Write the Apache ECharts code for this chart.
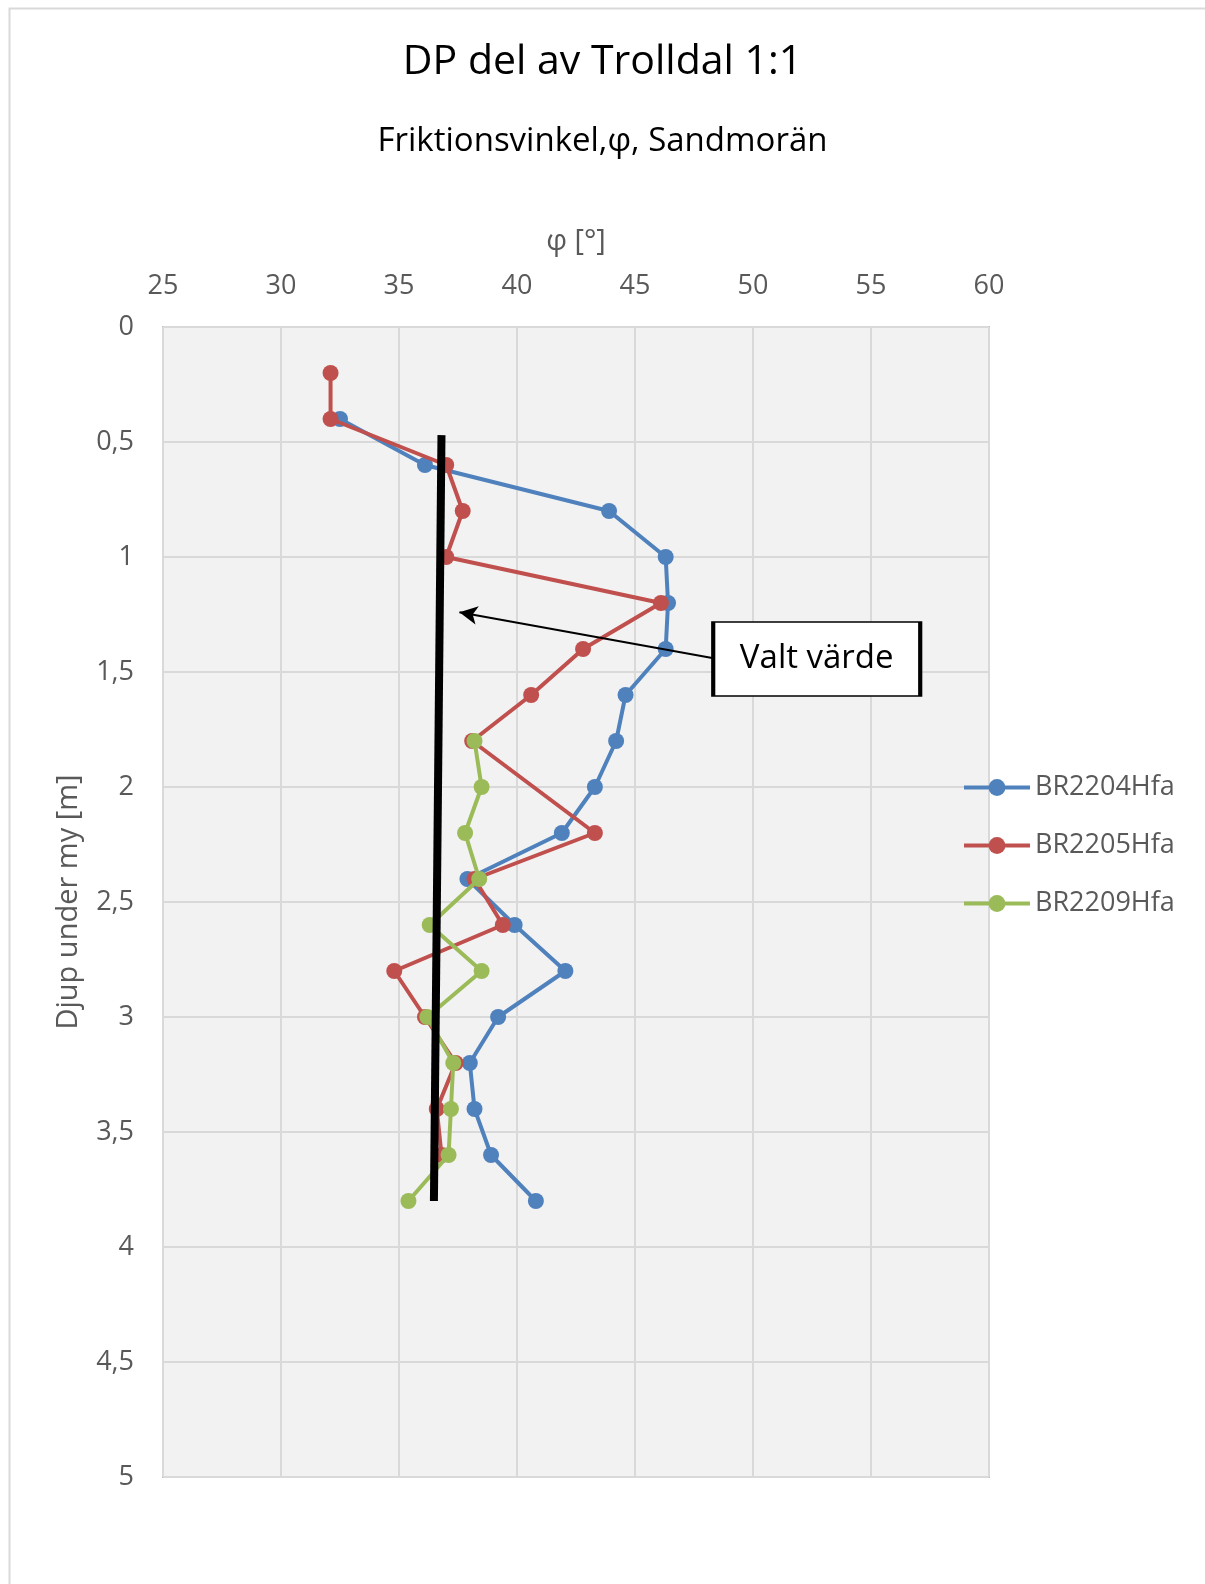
<!DOCTYPE html>
<html>
<head>
<meta charset="utf-8">
<script src="https://cdn.jsdelivr.net/npm/echarts@6/dist/echarts.min.js"></script>
<style>
html,body{margin:0;padding:0;background:#fff;}
#chart{width:1205px;height:1584px;}
</style>
</head>
<body>
<div id="chart"></div>
<script>
// ---- Data ----
const titleText = 'DP del av Trolldal 1:1';
const subtitleText = 'Friktionsvinkel,\u03c6, Sandmor\u00e4n';
const xAxisName = '\u03c6 [\u00b0]';
const yAxisName = 'Djup under my [m]';
const seriesNames = ['BR2204Hfa', 'BR2205Hfa', 'BR2209Hfa'];

const depthBR2204 = [0.4, 0.6, 0.8, 1.0, 1.2, 1.4, 1.6, 1.8, 2.0, 2.2, 2.4, 2.6, 2.8, 3.0, 3.2, 3.4, 3.6, 3.8];
const phiBR2204   = [32.5, 36.1, 43.9, 46.3, 46.4, 46.3, 44.6, 44.2, 43.3, 41.9, 37.9, 39.9, 42.05, 39.2, 38.0, 38.2, 38.9, 40.8];

const depthBR2205 = [0.2, 0.4, 0.6, 0.8, 1.0, 1.2, 1.4, 1.6, 1.8, 2.2, 2.4, 2.6, 2.8, 3.0, 3.2, 3.4, 3.6];
const phiBR2205   = [32.1, 32.1, 37.0, 37.7, 37.0, 46.1, 42.8, 40.6, 38.1, 43.3, 38.2, 39.4, 34.8, 36.1, 37.4, 36.6, 36.8];

const depthBR2209 = [1.8, 2.0, 2.2, 2.4, 2.6, 2.8, 3.0, 3.2, 3.4, 3.6, 3.8];
const phiBR2209   = [38.2, 38.5, 37.8, 38.4, 36.3, 38.5, 36.2, 37.3, 37.2, 37.1, 35.4];

// chosen value line ("Valt värde")
const valtDepth = [0.47, 3.8];
const valtPhi   = [36.8, 36.48];
const annotationText = 'Valt v\u00e4rde';
const arrowFrom = [48.33, 1.44];
const arrowTo   = [37.56, 1.24];
const boxCenter = [52.7, 1.443];

const xTicks = {min: 25, max: 60, interval: 5};
const yTicks = {min: 0, max: 5, interval: 0.5};

const colors = ['#4F81BD', '#C0504D', '#9BBB59'];

function pairs(xs, ys){ return xs.map((x,i)=>[x, ys[i]]); }

const FONT = '"Open Sans", "Noto Sans", sans-serif';
const chart = echarts.init(document.getElementById('chart'), null, {renderer:'canvas'});

const dataSeries = [
  pairs(phiBR2204, depthBR2204),
  pairs(phiBR2205, depthBR2205),
  pairs(phiBR2209, depthBR2209)
].map((d,i)=>({
  name: seriesNames[i],
  type: 'line',
  data: d,
  symbol: 'circle',
  symbolSize: 16,
  showSymbol: true,
  color: colors[i],
  lineStyle: {width: 4, color: colors[i]},
  itemStyle: {color: colors[i]},
  z: 3 + i,
  animation: false
}));

const option = {
  backgroundColor: '#fff',
  animation: false,
  textStyle: {fontFamily: FONT},
  title: [
    {text: titleText, left: 'center', top: 37, textStyle: {fontFamily: FONT, fontSize: 41, fontWeight: 'normal', color: '#000'}},
    {text: subtitleText, left: 'center', top: 120, textStyle: {fontFamily: FONT, fontSize: 33, fontWeight: 'normal', color: '#000'}}
  ],
  graphic: [{
    type: 'rect', left: 7, top: 6, silent: true, z: -10,
    shape: {width: 1300, height: 1700},
    style: {fill: 'none', stroke: '#D9D9D9', lineWidth: 2}
  }],
  grid: {
    left: 163, top: 327, width: 826, height: 1150,
    show: true, backgroundColor: '#F2F2F2', borderColor: '#BFBFBF', borderWidth: 2,
    containLabel: false
  },
  legend: {
    data: seriesNames,
    orient: 'vertical',
    left: 957, top: 769,
    itemWidth: 66, itemHeight: 21, itemGap: 31,
    lineStyle: {width: 4},
    textStyle: {fontFamily: FONT, fontSize: 27, color: '#595959', lineHeight: 24}
  },
  xAxis: {
    type: 'value', position: 'top',
    min: xTicks.min, max: xTicks.max, interval: xTicks.interval,
    name: xAxisName, nameLocation: 'middle', nameGap: 71,
    nameTextStyle: {fontFamily: FONT, fontSize: 29, color: '#595959'},
    axisLine: {show: false}, axisTick: {show: false},
    axisLabel: {fontFamily: FONT, fontSize: 27, color: '#595959', margin: 27},
    splitLine: {show: true, lineStyle: {color: '#D9D9D9', width: 2}}
  },
  yAxis: {
    type: 'value', inverse: true,
    min: yTicks.min, max: yTicks.max, interval: yTicks.interval,
    name: yAxisName, nameLocation: 'middle', nameGap: 80, nameRotate: 90,
    nameTextStyle: {fontFamily: FONT, fontSize: 29, color: '#595959'},
    axisLine: {show: false}, axisTick: {show: false},
    axisLabel: {fontFamily: FONT, fontSize: 27, color: '#595959', margin: 29,
      formatter: v => String(v).replace('.', ',')},
    splitLine: {show: true, lineStyle: {color: '#D9D9D9', width: 2}}
  },
  series: dataSeries.concat([{
    name: 'Valt',
    type: 'line',
    data: pairs(valtPhi, valtDepth),
    symbol: 'none',
    lineStyle: {width: 8, color: '#000'},
    itemStyle: {color: '#000'},
    z: 10,
    silent: true,
    markLine: {
      silent: true,
      symbol: ['none', 'arrow'],
      symbolSize: [14, 18],
      label: {show: false},
      lineStyle: {color: '#000', width: 2, type: 'solid'},
      data: [[{coord: arrowFrom}, {coord: arrowTo}]],
      z: 11
    },
    markPoint: {
      silent: true,
      symbol: 'rect',
      symbolSize: [207, 74],
      itemStyle: {color: '#fff', borderColor: '#000', borderWidth: 2.5},
      label: {show: true, position: 'inside', formatter: annotationText,
        fontFamily: FONT, fontSize: 33, color: '#000'},
      data: [{coord: boxCenter}],
      z: 12
    }
  }])
};
chart.setOption(option);
</script>
</body>
</html>
